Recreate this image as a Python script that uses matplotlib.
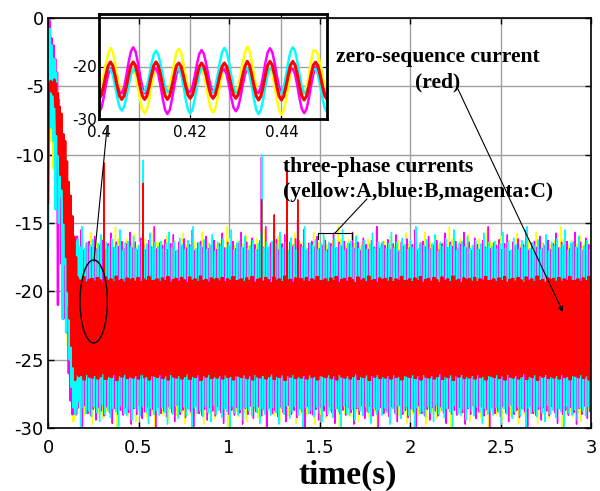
import numpy as np
import matplotlib
matplotlib.use("Agg")
import matplotlib.pyplot as plt
from matplotlib.patches import Ellipse

# ---- data ----
# start-up transient, one value every 5 ms from t = 0 to 0.175 s
dt_tr = 0.005
yellow_tr = [-7.0, -2.0, -4.0, -9.0, -3.0, -6.0, -11.0, -4.0, -8.0, -5.0, -10.0, -6.0,
             -12.0, -7.0, -13.0, -8.0, -16.0, -10.0, -19.0, -11.0, -21.0, -12.0, -24.0, -14.0,
             -26.0, -15.0, -28.0, -16.0, -29.5, -17.0, -29.0, -16.8, -28.8, -17.0, -28.5, -17.2]
cyan_tr = [-17.0, -1.0, -0.8, -8.0, -2.0, -4.0, -9.0, -3.0, -14.0, -4.0, -10.0, -6.0,
           -15.0, -7.0, -13.0, -8.0, -22.0, -9.0, -18.0, -10.0, -23.0, -12.0, -21.0, -13.0,
           -25.0, -14.0, -27.0, -15.0, -28.5, -16.0, -29.0, -16.5, -28.5, -16.2, -28.0, -16.8]
magenta_tr = [-0.2, 0.0, -0.3, -3.0, -1.5, -6.0, -2.0, -8.0, -3.0, -12.0, -4.0, -21.0,
              -6.0, -14.0, -7.0, -18.0, -9.0, -22.0, -11.0, -15.0, -13.0, -23.0, -14.0, -26.0,
              -16.0, -28.0, -15.0, -29.0, -17.0, -28.0, -16.5, -29.0, -16.0, -28.5, -17.0, -28.0]
red_tr = [-13.5, -4.8, -5.2, -4.6, -5.4, -4.7, -5.6, -4.5, -6.5, -4.8, -8.5, -5.5,
          -10.0, -6.5, -11.5, -7.0, -12.5, -8.5, -15.0, -9.0, -17.5, -10.5, -20.0, -12.0,
          -22.0, -13.0, -24.0, -14.5, -25.5, -16.0, -26.5, -17.5, -26.0, -19.0, -26.2, -19.2]

t_steady_start = 0.1775
dt = 0.0005
mean_level = -22.7
yellow_cycle = [-16.7, -17.43, -19.34, -21.76, -23.86, -24.95, -24.76, -23.52, -21.88, -20.64,
                -20.45, -21.54, -23.64, -26.07, -27.98, -28.7, -27.98, -26.07, -23.64, -21.54,
                -20.45, -20.64, -21.88, -23.52, -24.76, -24.95, -23.86, -21.76, -19.34, -17.43]
cyan_cycle = [-20.45, -21.54, -23.64, -26.07, -27.98, -28.7, -27.98, -26.07, -23.64, -21.54,
              -20.45, -20.64, -21.88, -23.52, -24.76, -24.95, -23.86, -21.76, -19.34, -17.43,
              -16.7, -17.43, -19.34, -21.76, -23.86, -24.95, -24.76, -23.52, -21.88, -20.64]
magenta_cycle = [-20.45, -20.64, -21.88, -23.52, -24.76, -24.95, -23.86, -21.76, -19.34, -17.43,
                 -16.7, -17.43, -19.34, -21.76, -23.86, -24.95, -24.76, -23.52, -21.88, -20.64,
                 -20.45, -21.54, -23.64, -26.07, -27.98, -28.7, -27.98, -26.07, -23.64, -21.54]
red_cycle = [-19.2, -19.87, -21.62, -23.78, -25.53, -26.2, -25.53, -23.78, -21.62, -19.87] * 3

# cycle-to-cycle swing of the peaks (ragged band edges)
swing = [1.00, 1.06, 0.97, 1.03, 1.17, 0.98, 1.05, 0.95, 1.10, 1.02, 0.96, 1.07, 0.99, 1.24,
         0.97, 1.04, 1.01, 1.08, 0.96, 1.03, 1.14, 0.94, 1.05, 1.00, 1.09, 0.98, 1.02, 1.20,
         0.95, 1.04, 1.06, 0.99, 1.12, 0.97, 1.01, 1.07, 0.96, 1.03, 1.16, 0.98, 1.05]
swing_red = [1.00, 1.03, 0.97, 1.05, 0.99, 1.08, 0.96, 1.02, 1.04, 0.98, 1.06, 1.01, 0.95,
             1.07, 1.00, 1.03, 0.97, 1.09, 0.99, 1.02, 0.96, 1.05, 1.01, 1.04, 0.98, 1.06,
             0.97, 1.03, 1.00, 1.08, 0.99]

# isolated spikes
spike_t = [0.31, 0.525, 1.18, 1.25, 1.32, 1.38]
spike_red = [-10.6, -12.1, -13.3, -14.4, -11.1, -13.3]
spike_cyan = [-12.0, -10.4, -10.0, -15.0, -14.5, -15.5]
spike_magenta = [-10.8, -11.5, -10.2, -15.2, -15.0, -14.8]

xticks = [0, 0.5, 1, 1.5, 2, 2.5, 3]
xticklabels = ['0', '0.5', '1', '1.5', '2', '2.5', '3']
yticks = [0, -5, -10, -15, -20, -25, -30]
yticklabels = ['0', '-5', '-10', '-15', '-20', '-25', '-30']

# ---- build the series ----
t_tr = np.arange(len(red_tr)) * dt_tr
n_steady = int(round((3.0 - t_steady_start) / dt)) + 1
t_st = t_steady_start + np.arange(n_steady) * dt
n_cyc = n_steady // len(yellow_cycle) + 1


def steady(cycle_vals, offset, sw):
    cyc = np.array(cycle_vals)
    s = np.array(sw)[(np.arange(n_cyc) + offset) % len(sw)]
    block = mean_level + (cyc[None, :] - mean_level) * s[:, None]
    return block.ravel()[:n_steady]


t_all = np.concatenate([t_tr, t_st])
series = {
    'yellow': np.concatenate([yellow_tr, steady(yellow_cycle, 0, swing)]),
    'magenta': np.concatenate([magenta_tr, steady(magenta_cycle, 27, swing)]),
    'cyan': np.concatenate([cyan_tr, steady(cyan_cycle, 13, swing)]),
    'red': np.concatenate([red_tr, steady(red_cycle, 4, swing_red)]),
}
idx = np.searchsorted(t_all, spike_t)
series['red'][idx] = spike_red
series['cyan'][idx + 2] = spike_cyan
series['magenta'][idx - 2] = spike_magenta

colors = {'yellow': '#ffff00', 'magenta': '#ff00ff', 'cyan': '#00ffff', 'red': '#ff0000'}
order = ['yellow', 'magenta', 'cyan', 'red']
n_tr = len(red_tr)

# ---- figure ----
fig = plt.figure(figsize=(6, 4.91), dpi=100)
ax = fig.add_axes([48 / 600, 1 - 428 / 491, 543 / 600, 410 / 491])

for name in order:
    # start-up part is sampled coarser, draw it a bit heavier
    ax.plot(t_all[:n_tr + 1], series[name][:n_tr + 1], color=colors[name], linewidth=1.7)
    ax.plot(t_all[n_tr:], series[name][n_tr:], color=colors[name], linewidth=1.0)

ax.set_xlim(0, 3)
ax.set_ylim(-30, 0)
ax.set_xticks(xticks)
ax.set_xticklabels(xticklabels)
ax.set_yticks(yticks)
ax.set_yticklabels(yticklabels)
ax.grid(True, color='#a0a0a0', linestyle='-', linewidth=1.0)
ax.set_axisbelow(True)
ax.tick_params(direction='in', top=True, right=True, length=4, width=1,
               labelsize=13, colors='black')
ax.tick_params(axis='x', pad=8)
ax.tick_params(axis='y', pad=3)
for sp in ax.spines.values():
    sp.set_linewidth(1.2)

ax.set_xlabel('time(s)', family='Liberation Serif', fontweight='bold', fontsize=24,
              va='center')
ax.xaxis.set_label_coords((348 - 48) / 543, -(475 - 428) / 410)

# annotations
tfont = dict(family='Liberation Serif', fontweight='bold', fontsize=15.6)
ax.text(1.298, -11.27, 'three-phase currents', ha='left', va='baseline', **tfont)
ax.text(1.298, -13.1, '(yellow:A,blue:B,magenta:C)', ha='left', va='baseline', **tfont)
ax.text(2.155, -3.22, 'zero-sequence current', ha='center', va='baseline', **tfont)
ax.text(2.155, -5.12, '(red)', ha='center', va='baseline', **tfont)

ax.annotate('', xy=(2.845, -21.51), xytext=(2.265, -5.2),
            arrowprops=dict(arrowstyle='->', color='black', lw=0.8,
                            shrinkA=0, shrinkB=0, mutation_scale=8), zorder=6)
ax.plot([1.762, 1.586], [-13.24, -15.73], color='black', lw=0.8, zorder=6)
ax.plot([1.492, 1.492, 1.680, 1.680], [-16.17, -15.73, -15.73, -16.17], color='black',
        lw=0.8, zorder=6)

ax.add_patch(Ellipse((0.2525, -20.74), 0.151, 6.07, fill=False, edgecolor='black',
                     lw=1.0, zorder=6))
ax.plot([0.254, 0.326], [-17.78, -8.05], color='black', lw=0.8, zorder=6)

# inset zoom
axi = fig.add_axes([99 / 600, 1 - 119 / 491, 228 / 600, 105 / 491])
axi.patch.set_alpha(0)
sel = (t_all >= 0.395) & (t_all <= 0.455)
for name in order:
    lw = 2.2 if name == 'red' else 1.8
    axi.plot(t_all[sel], series[name][sel], color=colors[name], linewidth=lw)
axi.set_xlim(0.4, 0.45)
axi.set_ylim(-30, -10)
axi.set_xticks([0.4, 0.42, 0.44])
axi.set_xticklabels(['0.4', '0.42', '0.44'])
axi.set_yticks([-30, -20])
axi.set_yticklabels(['-30', '-20'])
axi.grid(True, color='#a0a0a0', linestyle='-', linewidth=1.0)
axi.set_axisbelow(True)
axi.tick_params(direction='in', top=True, right=True, length=3, labelsize=11)
axi.tick_params(axis='x', pad=4)
axi.tick_params(axis='y', pad=1.5)
for sp in axi.spines.values():
    sp.set_linewidth(2)

fig.savefig('out.png', dpi=100, facecolor='white')
